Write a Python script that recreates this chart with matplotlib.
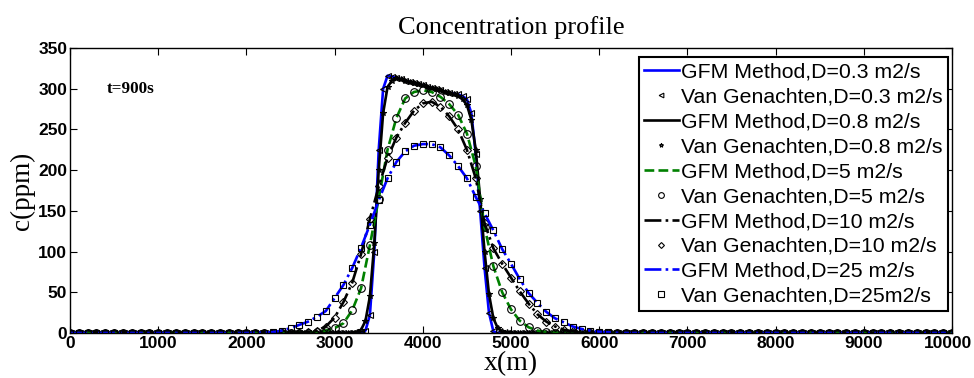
import numpy as np
import matplotlib
matplotlib.use("Agg")
import matplotlib.pyplot as plt
from matplotlib.transforms import offset_copy

# coarse samples (every 100 m, 2000..6500) for the broader profiles
x_core = list(range(2000, 6501, 100))
x_full = list(range(0, 10001, 100))
# fine samples (every 50 m, 3000..5000) for the two sharp profiles
x_fine_core = list(range(3000, 5001, 50))
x_fine_full = list(range(0, 10001, 50))

# concentration c(ppm)
c_d03 = [0, 0, 0, 0, 0, 0, 0, 3, 22, 100, 225, 300, 316, 315, 313, 311.5, 310, 308.5,
         307, 305.5, 304, 302.5, 301, 299.5, 298, 296.5, 295, 294, 293, 291, 287, 270,
         220, 150, 80, 25, 2, 0, 0, 0, 0]
c_d08 = [0, 0, 0, 0.2, 0.5, 1.5, 4, 15, 45, 110, 200, 270, 302, 310, 313, 311.5, 310,
         308.5, 307, 305.5, 304, 302.5, 301, 299.5, 298, 296.5, 295, 293, 291, 287, 280,
         262, 225, 165, 100, 48, 18, 6, 2, 0.7, 0.3]
c_d5 = [0, 0, 0, 0, 0, 0, 0.2, 0.5, 1, 3, 6, 12, 28, 55, 108, 165, 225, 264, 288, 296,
        298, 296, 290, 281, 268, 245, 205, 130, 82, 50, 29, 15, 7, 3, 1, 0.4,
        0, 0, 0, 0, 0, 0, 0, 0, 0, 0]
c_d10 = [0, 0, 0, 0, 0, 0, 0.5, 1, 3, 8, 19, 38, 62, 97, 140, 180, 215, 240, 258, 273,
         282, 284, 278, 266, 250, 225, 190, 135, 104, 85, 68, 51, 36, 23, 14, 8, 4, 2, 1, 0.3,
         0, 0, 0, 0, 0, 0]
c_d25 = [0, 0.3, 0.5, 1, 3, 6, 10, 14, 20, 27, 43, 59, 80, 105, 133, 163, 190, 210, 223, 230,
         232, 232, 228, 218, 205, 190, 167, 147, 126, 103, 85, 66, 49, 37, 26, 18, 13, 8, 5, 3,
         1.5, 0.8, 0.3, 0, 0, 0]

# outside the sampled windows the concentration is zero
pad_coarse = ([0] * 20, [0] * 35)
pad_fine = ([0] * 60, [0] * 100)

gfm_labels = ["GFM Method,D=0.3 m2/s", "GFM Method,D=0.8 m2/s", "GFM Method,D=5 m2/s",
              "GFM Method,D=10 m2/s", "GFM Method,D=25 m2/s"]
vg_labels = ["Van Genachten,D=0.3 m2/s", "Van Genachten,D=0.8 m2/s", "Van Genachten,D=5 m2/s",
             "Van Genachten,D=10 m2/s", "Van Genachten,D=25m2/s"]
profiles = [c_d03, c_d08, c_d5, c_d10, c_d25]
fine = [True, True, False, False, False]

line_styles = [("-", "#0000ff"), ("-", "black"), ("--", "#008000"), ("-.", "black"), ("-.", "#0000ff")]
markers = ["<", "*", "o", "D", "s"]
marker_sizes = [4.5, 4, 5.5, 4, 5]

fig = plt.figure(figsize=(9.74, 3.78), dpi=100)
ax = fig.add_axes([0.0719, 0.119, 0.9055, 0.754])

handles = []
for c, f, lab_g, lab_v, (ls, col), mk, ms in zip(profiles, fine, gfm_labels, vg_labels,
                                                 line_styles, markers, marker_sizes):
    if f:
        xs, pad = x_fine_full, pad_fine
    else:
        xs, pad = x_full, pad_coarse
    c_full = pad[0] + c + pad[1]
    h1, = ax.plot(xs, c_full, ls, color=col, lw=1.9, label=lab_g)
    h2, = ax.plot(xs, c_full, mk, mfc="none", mec="black", mew=0.8,
                  ms=ms, linestyle="none", label=lab_v)
    handles += [h1, h2]

ax.set_xlim(0, 10000)
ax.set_ylim(0, 350)
ax.set_xticks(np.arange(0, 10001, 1000))
ax.set_yticks(np.arange(0, 351, 50))
ax.tick_params(direction="in", top=True, right=True, length=5, width=0.8, pad=2)
for lbl in ax.get_xticklabels() + ax.get_yticklabels():
    lbl.set_family("Liberation Sans")
    lbl.set_fontweight("bold")
    lbl.set_fontsize(12.5)
# last x label sits a little left so it stays inside the picture
last = ax.get_xticklabels()[-1]
last.set_transform(offset_copy(last.get_transform(), fig=fig, x=-4, y=0, units="dots"))
for s in ax.spines.values():
    s.set_linewidth(1.0)

ax.set_title("Concentration profile", family="Liberation Serif", fontsize=19, pad=10)
ax.set_xlabel("x(m)", family="Liberation Serif", fontsize=20, labelpad=0.5)
ax.set_ylabel("c(ppm)", family="Liberation Serif", fontsize=19.5, labelpad=2)
ax.text(420, 300, "t=900s", family="Liberation Serif", fontweight="bold",
        fontsize=12.3, va="center")

leg = ax.legend(handles=handles, loc="upper right",
                bbox_to_anchor=(948 / 974, 1 - 57 / 378), bbox_transform=fig.transFigure,
                prop={"family": "Liberation Sans", "size": 15.3},
                frameon=True, fancybox=False, edgecolor="black", framealpha=1,
                handlelength=1.65, handletextpad=0.1, labelspacing=0.28,
                borderpad=0.25, borderaxespad=0, markerscale=0.75)
leg.get_frame().set_linewidth(1.5)

fig.savefig("out.png", dpi=100)
